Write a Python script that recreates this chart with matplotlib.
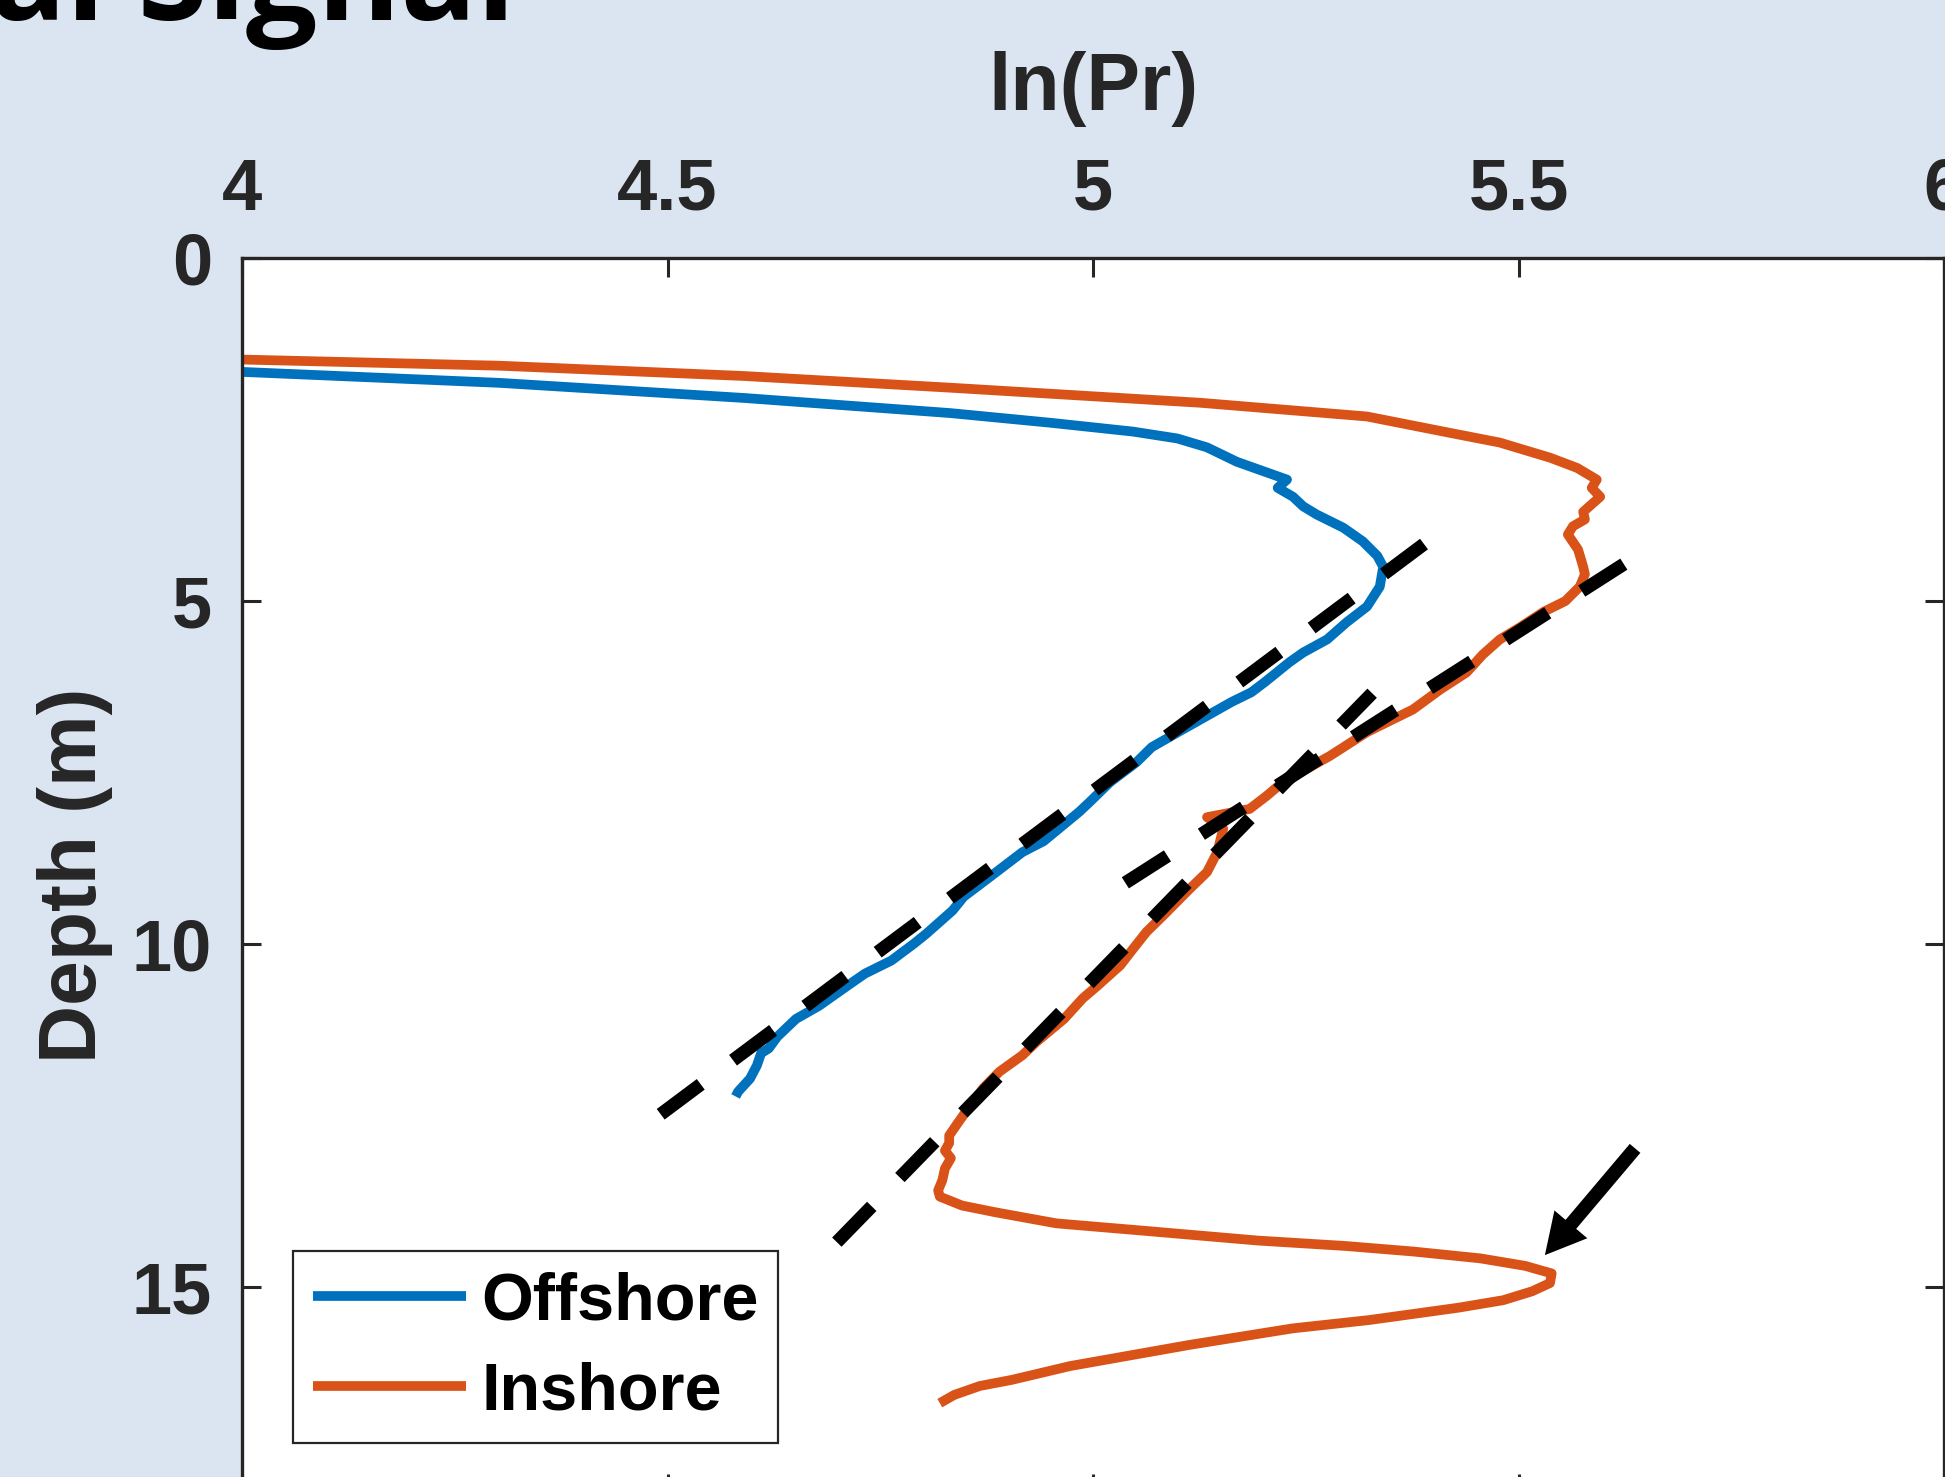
import matplotlib
matplotlib.use("Agg")
import matplotlib.pyplot as plt

# ---- data -------------------------------------------------------------
# Offshore profile: ln(Pr) versus depth (m)
offshore_lnpr = [4.000, 4.303, 4.590, 4.832, 4.949, 5.047, 5.099, 5.134, 5.169, 5.228,
                 5.217, 5.235, 5.247, 5.263, 5.294, 5.317, 5.334, 5.341, 5.337, 5.322,
                 5.298, 5.275, 5.247, 5.231, 5.202, 5.186, 5.163, 5.100, 5.069, 5.051,
                 5.020, 4.996, 4.984, 4.942, 4.917, 4.880, 4.848, 4.835, 4.804, 4.790,
                 4.763, 4.732, 4.718, 4.678, 4.651, 4.629, 4.619, 4.610, 4.605, 4.597,
                 4.583, 4.580]
offshore_depth = [1.66, 1.82, 2.04, 2.26, 2.40, 2.53, 2.63, 2.76, 2.97, 3.23,
                  3.35, 3.48, 3.62, 3.74, 3.93, 4.13, 4.34, 4.50, 4.79, 5.08,
                  5.31, 5.56, 5.75, 5.89, 6.18, 6.33, 6.47, 6.91, 7.13, 7.35,
                  7.64, 7.93, 8.07, 8.50, 8.66, 9.01, 9.31, 9.51, 9.85, 9.99,
                  10.24, 10.43, 10.55, 10.90, 11.09, 11.35, 11.52, 11.59, 11.77, 11.96,
                  12.15, 12.22]

# Inshore profile: ln(Pr) versus depth (m)
inshore_lnpr = [4.000, 4.303, 4.590, 4.832, 5.126, 5.322, 5.420, 5.478, 5.537, 5.569,
                5.592, 5.586, 5.596, 5.576, 5.578, 5.564, 5.558, 5.570, 5.576, 5.578,
                5.572, 5.555, 5.529, 5.502, 5.478, 5.458, 5.439, 5.408, 5.376, 5.322,
                5.278, 5.223, 5.204, 5.184, 5.155, 5.134, 5.153, 5.146, 5.134, 5.114,
                5.082, 5.063, 5.047, 5.032, 5.005, 4.988, 4.966, 4.934, 4.917, 4.890,
                4.871, 4.853, 4.841, 4.831, 4.831, 4.826, 4.833, 4.826, 4.823, 4.818,
                4.820, 4.846, 4.886, 4.957, 5.062, 5.193, 5.297, 5.376, 5.455, 5.508,
                5.539, 5.537, 5.516, 5.482, 5.429, 5.324, 5.235, 5.114, 4.973, 4.905,
                4.867, 4.837, 4.820]
inshore_depth = [1.48, 1.57, 1.72, 1.89, 2.11, 2.31, 2.55, 2.69, 2.91, 3.06,
                 3.23, 3.35, 3.48, 3.70, 3.81, 3.91, 4.03, 4.25, 4.50, 4.61,
                 4.79, 5.00, 5.16, 5.38, 5.56, 5.78, 6.04, 6.29, 6.58, 6.91,
                 7.26, 7.64, 7.84, 8.03, 8.10, 8.15, 8.32, 8.66, 8.95, 9.19,
                 9.59, 9.82, 10.07, 10.31, 10.61, 10.79, 11.09, 11.42, 11.62, 11.86,
                 12.10, 12.40, 12.61, 12.79, 12.90, 13.01, 13.12, 13.27, 13.44, 13.59,
                 13.68, 13.81, 13.91, 14.07, 14.18, 14.32, 14.40, 14.48, 14.58, 14.69,
                 14.80, 14.94, 15.06, 15.19, 15.30, 15.48, 15.60, 15.84, 16.15, 16.35,
                 16.44, 16.57, 16.69]

# Linear attenuation fits (end points: ln(Pr), depth)
fit_offshore_lnpr = [4.492, 5.404]
fit_offshore_depth = [12.48, 4.03]
fit_inshore_upper_lnpr = [5.038, 5.649]
fit_inshore_upper_depth = [9.107, 4.262]
fit_inshore_lower_lnpr = [4.699, 5.328]
fit_inshore_lower_depth = [14.344, 6.343]

# Arrow pointing at the deep inshore return
arrow_tail = (5.637, 12.977)
arrow_tip = (5.531, 14.533)

x_ticks = [4, 4.5, 5, 5.5, 6]
x_tick_labels = ["4", "4.5", "5", "5.5", "6"]
y_ticks = [0, 5, 10, 15]
y_tick_labels = ["0", "5", "10", "15"]

series_names = ["Offshore", "Inshore"]

# ---- style ------------------------------------------------------------
plt.rcParams["font.family"] = ["Liberation Sans", "DejaVu Sans"]
plt.rcParams["font.weight"] = "bold"

BG = "#DBE5F1"
AXC = "#262626"
BLUE = "#0072BD"
ORANGE = "#D95319"

W, H = 1945, 1477
fig = plt.figure(figsize=(W / 100, H / 100), dpi=100, facecolor=BG)

ax_left, ax_top, ax_right, ax_bottom = 242, 258, 1944, 1493
ax = fig.add_axes([ax_left / W, (H - ax_bottom) / H,
                   (ax_right - ax_left) / W, (ax_bottom - ax_top) / H])
ax.set_facecolor("white")

line_kw = dict(lw=7.0, solid_joinstyle="round", solid_capstyle="butt")
ax.plot(offshore_lnpr, offshore_depth, color=BLUE, label=series_names[0], **line_kw)
ax.plot(inshore_lnpr, inshore_depth, color=ORANGE, label=series_names[1], **line_kw)

DASH_LW = 9.5
for xs, ys in [(fit_offshore_lnpr, fit_offshore_depth),
               (fit_inshore_upper_lnpr, fit_inshore_upper_depth),
               (fit_inshore_lower_lnpr, fit_inshore_lower_depth)]:
    ax.plot(xs, ys, color="black", lw=DASH_LW, dashes=(36 / DASH_LW, 29 / DASH_LW),
            dash_capstyle="butt", zorder=4)

ax.annotate("", xy=arrow_tip, xytext=arrow_tail,
            arrowprops=dict(arrowstyle="simple,head_length=1.45,head_width=1.55,tail_width=0.5",
                            mutation_scale=20, fc="black", ec="none", lw=0,
                            shrinkA=0, shrinkB=0),
            zorder=5)

ax.set_xlim(4, 6)
ax.set_ylim(18, 0)
ax.set_xticks(x_ticks)
ax.set_xticklabels(x_tick_labels)
ax.set_yticks(y_ticks)
ax.set_yticklabels(y_tick_labels)

ax.tick_params(axis="x", top=True, bottom=True, labeltop=True, labelbottom=False,
               direction="in", length=13.7, width=2.2, pad=24, color=AXC,
               labelcolor=AXC, labelsize=52)
ax.tick_params(axis="y", left=True, right=True, labelleft=True, labelright=False,
               direction="in", length=13.7, width=2.2, pad=21.5, color=AXC,
               labelcolor=AXC, labelsize=52)
for lab in ax.get_xticklabels() + ax.get_yticklabels():
    lab.set_fontweight("bold")

for sp in ax.spines.values():
    sp.set_color(AXC)
    sp.set_linewidth(2.4)

ax.set_xlabel("ln(Pr)", fontsize=58, fontweight="bold", color=AXC)
ax.xaxis.set_label_position("top")
ax.xaxis.set_label_coords(0.5, 1 + (ax_top - 110) / (ax_bottom - ax_top))
ax.xaxis.label.set_va("baseline")

ax.set_ylabel("Depth (m)", fontsize=58, fontweight="bold", color=AXC)
ax.yaxis.set_label_coords((96 - ax_left) / (ax_right - ax_left), 0.5)
ax.yaxis.label.set_va("baseline")

leg = ax.legend(loc="lower left",
                bbox_to_anchor=((293 - ax_left) / (ax_right - ax_left),
                                (ax_bottom - 1443) / (ax_bottom - ax_top)),
                borderaxespad=0, prop=dict(family="Liberation Sans", weight="bold", size=48),
                handlelength=2.3, handletextpad=0.22, borderpad=0.3, labelspacing=0.42,
                fancybox=False, framealpha=1, edgecolor=AXC)
leg.get_frame().set_linewidth(1.6)
for t in leg.get_texts():
    t.set_color("black")

fig.text(515 / W, 1 - 20 / H, "Typical Signal", ha="right", va="baseline",
         fontsize=91, fontweight="bold", family=["Open Sans", "DejaVu Sans"],
         color="black")

fig.savefig("out.png", dpi=100, facecolor=BG)
